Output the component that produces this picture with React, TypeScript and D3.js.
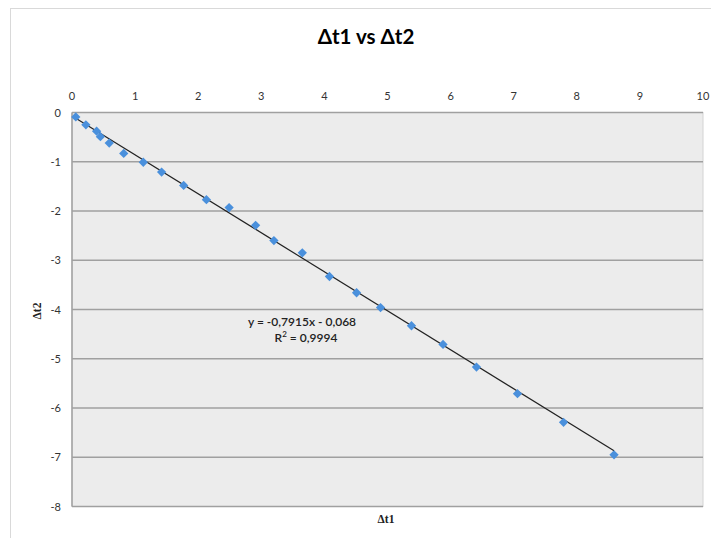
import React from "react";
import * as d3 from "d3";

const dt1 = [0.06, 0.22, 0.39, 0.45, 0.59, 0.82, 1.13, 1.42, 1.77, 2.13, 2.49, 2.91, 3.2, 3.65, 4.08, 4.51, 4.89, 5.38, 5.88, 6.41, 7.06, 7.79, 8.59];
const dt2 = [-0.09, -0.25, -0.38, -0.49, -0.62, -0.83, -1.01, -1.21, -1.48, -1.77, -1.93, -2.29, -2.6, -2.85, -3.33, -3.66, -3.96, -4.33, -4.71, -5.17, -5.71, -6.29, -6.95];
const xTicks = [0, 1, 2, 3, 4, 5, 6, 7, 8, 9, 10];
const yTicks = [0, -1, -2, -3, -4, -5, -6, -7, -8];
const slope = -0.7915;
const intercept = -0.068;
const titleText = "Δt1 vs Δt2";
const xTitle = "Δt1";
const yTitle = "Δt2";
const eqLine1 = "y = -0,7915x - 0,068";
const eqLine2a = "R";
const eqLine2b = " = 0,9994";

export default function App() {
  const W = 711, H = 538;
  const x = d3.scaleLinear().domain([0, 10]).range([72, 703]);
  const y = d3.scaleLinear().domain([0, -8]).range([112.5, 506.5]);
  const font = "Lato, 'Open Sans', sans-serif";
  const serif = "'Liberation Serif', 'DejaVu Serif', serif";
  const xMin = d3.min(dt1) as number;
  const xMax = d3.max(dt1) as number;
  const diamond = d3.symbol().type(d3.symbolDiamond2).size(55)();
  const lineGen = d3.line<number>().x((d) => x(d)).y((d) => y(slope * d + intercept));

  return (
    <svg width={W} height={H} style={{ position: "absolute", left: 0, top: 0, background: "#fff" }}>
      {/* outer chart border */}
      <rect x={10.5} y={8.5} width={W + 20} height={H + 20} fill="#fff" stroke="#d9d9d9" strokeWidth={1} />
      <text x={366} y={43.5} textAnchor="middle" fontFamily={font} fontWeight={700} fontSize={20.5} fill="#000">{titleText}</text>
      {/* plot area */}
      <rect x={x(0)} y={y(0)} width={x(10) - x(0)} height={y(-8) - y(0)} fill="#ececec" stroke="#d4d4d4" />
      {yTicks.map((t) => (
        <line key={"g" + t} x1={x(0)} x2={x(10)} y1={y(t)} y2={y(t)} stroke="#a0a0a0" strokeWidth={1.5} />
      ))}
      <line x1={x(0)} x2={x(0)} y1={y(0)} y2={y(-8)} stroke="#a0a0a0" strokeWidth={1.5} />
      {xTicks.map((t) => (
        <text key={"x" + t} x={x(t)} y={100} textAnchor="middle" fontFamily={font} fontSize={11} fill="#333">{t}</text>
      ))}
      {yTicks.map((t) => (
        <text key={"y" + t} x={61} y={y(t) + 4} textAnchor="end" fontFamily={font} fontSize={11} fill="#333">{t}</text>
      ))}
      <path d={lineGen([xMin, xMax]) || ""} stroke="#222" strokeWidth={1.2} fill="none" />
      {dt1.map((v, i) => (
        <path key={"p" + i} d={diamond || ""} transform={`translate(${x(v)},${y(dt2[i])})`} fill="#4a90dc" />
      ))}
      <text x={302} y={326} textAnchor="middle" fontFamily={font} fontWeight={600} fontSize={12} fill="#222">{eqLine1}</text>
      <text x={306} y={342} textAnchor="middle" fontFamily={font} fontWeight={600} fontSize={12} fill="#222">
        {eqLine2a}
        <tspan fontSize={8} dy={-5}>2</tspan>
        <tspan dy={5}>{eqLine2b}</tspan>
      </text>
      <text x={386} y={523} textAnchor="middle" fontFamily={serif} fontWeight={700} fontSize={11.5} fill="#222">{xTitle}</text>
      <text transform={`translate(41,311) rotate(-90)`} textAnchor="middle" fontFamily={serif} fontWeight={700} fontSize={11.5} fill="#222">{yTitle}</text>
    </svg>
  );
}
